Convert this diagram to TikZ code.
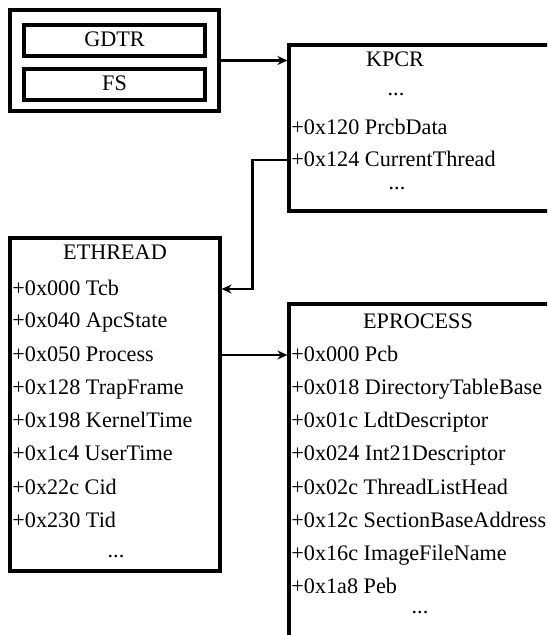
\documentclass[tikz,border=0pt]{standalone}
\usepackage{fontspec}
\setmainfont{Liberation Serif}
\usetikzlibrary{arrows.meta,positioning}

\begin{document}
\begin{tikzpicture}[
    x=0.5pt, y=-0.5pt,
    font=\fontsize{11.1}{13}\selectfont,
    structbox/.style={
        rectangle,
        draw=black,
        line width=1.6pt,
        inner sep=0pt
    },
    cell/.style={
        inner sep=0pt,
        text height=0.64em,
        text depth=0pt
    },
    field/.style={cell, anchor=west},
    ptr/.style={line width=1.1pt, -{Stealth[length=5pt,width=4.5pt]}}
]

\clip (0,0) rectangle (547,635);

% segment registers
\node[structbox, minimum width=104.5pt, minimum height=50.5pt] (regs) at (114.5,60.5) {};
\node[structbox, cell, minimum width=90.5pt, minimum height=15.5pt] (gdtr) at (114.5,40.5) {GDTR};
\node[structbox, cell, minimum width=90.5pt, minimum height=15.5pt] (fs)   at (114.5,84.5) {FS};

% KPCR
\node[structbox, minimum width=165.5pt, minimum height=83pt] (kpcr) at (454.5,128) {};
\node[cell] (kpcrname) at (395,60) {KPCR};
\node[cell] (kpcrdots1) at (396,89.5) {...};
\node[field] (prcbdata)  at (291,128) {+0x120 PrcbData};
\node[field] (curthread) at (291,160) {+0x124 CurrentThread};
\node[cell] (kpcrdots2) at (397,183) {...};

% ETHREAD
\node[structbox, minimum width=105pt, minimum height=166.5pt] (ethread) at (115,404.5) {};
\node[cell] (ethreadname) at (115,253) {ETHREAD};
\node[field] (tcb)       at (12,289) {+0x000 Tcb};
\node[field] (apcstate)  at (12,321) {+0x040 ApcState};
\node[field] (process)   at (12,355) {+0x050 Process};
\node[field] (trapframe) at (12,388) {+0x128 TrapFrame};
\node[field] (kerneltime) at (12,421) {+0x198 KernelTime};
\node[field] (usertime)  at (12,454) {+0x1c4 UserTime};
\node[field] (cid)       at (12,488) {+0x22c Cid};
\node[field] (tid)       at (12,521) {+0x230 Tid};
\node[cell] (ethreaddots) at (116,551) {...};

% EPROCESS
\node[structbox, minimum width=165.5pt, minimum height=198pt] (eprocess) at (454.5,502) {};
\node[cell] (eprocessname) at (418,322) {EPROCESS};
\node[field] (pcb)        at (291,355) {+0x000 Pcb};
\node[field] (dirbase)    at (291,388) {+0x018 DirectoryTableBase};
\node[field] (ldtdesc)    at (291,421) {+0x01c LdtDescriptor};
\node[field] (int21desc)  at (291,454) {+0x024 Int21Descriptor};
\node[field] (threadlist) at (291,488) {+0x02c ThreadListHead};
\node[field] (sectionbase) at (291,521) {+0x12c SectionBaseAddress};
\node[field] (imagename)  at (291,554) {+0x16c ImageFileName};
\node[field] (peb)        at (291,587) {+0x1a8 Peb};
\node[cell] (eprocessdots) at (420,607) {...};

% pointers
\draw[ptr] (regs.east) -- (regs.east -| kpcr.west);
\draw[ptr] (kpcr.west |- curthread) -- ++(-35,0) |- (ethread.east |- tcb);
\draw[ptr] (ethread.east |- process) -- (eprocess.west |- pcb);

\end{tikzpicture}
\end{document}
